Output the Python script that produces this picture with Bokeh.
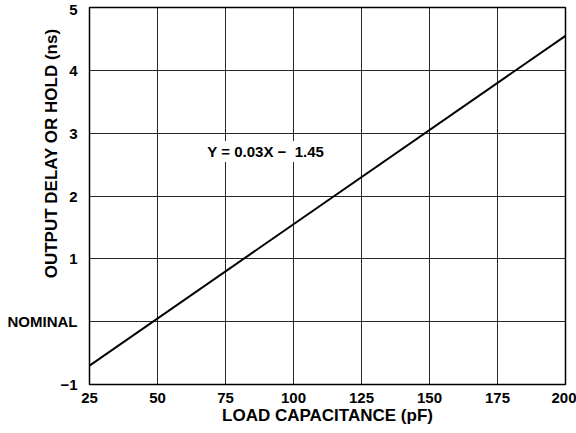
from bokeh.plotting import figure
from bokeh.models import Range1d, FixedTicker, Label
from bokeh.embed import file_html
from bokeh.resources import INLINE

# Data
load_capacitance = [25, 200]
output_delay = [-0.7, 4.55]
x_ticks = [25, 50, 75, 100, 125, 150, 175, 200]
y_ticks = [-1, 0, 1, 2, 3, 4, 5]
y_tick_labels = {-1: "\u22121", 0: "NOMINAL", 1: "1", 2: "2", 3: "3", 4: "4", 5: "5"}
equation_text = "Y = 0.03X \u2212\u00a0 1.45"
x_title = "LOAD CAPACITANCE (pF)"
y_title = "OUTPUT DELAY OR HOLD (ns)"

FONT = "Liberation Sans"

p = figure(width=576, height=433, output_backend="svg", toolbar_location=None,
           x_range=Range1d(25, 200), y_range=Range1d(-1, 5),
           min_border_left=89, min_border_right=11, min_border_top=7, min_border_bottom=49)

p.line(load_capacitance, output_delay, line_color="black", line_width=2)

p.xaxis.ticker = FixedTicker(ticks=x_ticks)
p.yaxis.ticker = FixedTicker(ticks=y_ticks)
p.yaxis.major_label_overrides = y_tick_labels

for ax in (p.xaxis[0], p.yaxis[0]):
    ax.axis_line_color = None
    ax.major_tick_line_color = None
    ax.minor_tick_line_color = None
    ax.major_tick_out = 0
    ax.major_tick_in = 0
    ax.minor_tick_out = 0
    ax.major_label_text_font = FONT
    ax.major_label_text_font_style = "bold"
    ax.major_label_text_font_size = "15px"
    ax.major_label_text_color = "black"
    ax.axis_label_text_font = FONT
    ax.axis_label_text_font_style = "bold"
    ax.axis_label_text_font_size = "17px"
    ax.axis_label_text_color = "black"
p.xaxis.major_label_standoff = 8
p.yaxis.major_label_standoff = 12

p.xaxis.axis_label = x_title
p.xaxis.axis_label_standoff = 0

# leading non-breaking spaces move the vertical title up from the frame centre
p.yaxis.axis_label = "\u00a0" * 18 + y_title
p.yaxis.axis_label_standoff = -56

p.xgrid.grid_line_color = "black"
p.ygrid.grid_line_color = "black"
p.xgrid.grid_line_alpha = 0.85
p.ygrid.grid_line_alpha = 0.85
p.outline_line_color = "black"
p.outline_line_width = 1.5
p.outline_line_alpha = 1.0

eq = Label(x=67.6, y=2.71, text=equation_text, text_align="left", text_baseline="middle",
           text_font=FONT, text_font_style="bold", text_font_size="15px",
           text_color="black", background_fill_color="white", padding=2)
p.add_layout(eq)

open("out.html", "w").write(file_html(p, INLINE))
